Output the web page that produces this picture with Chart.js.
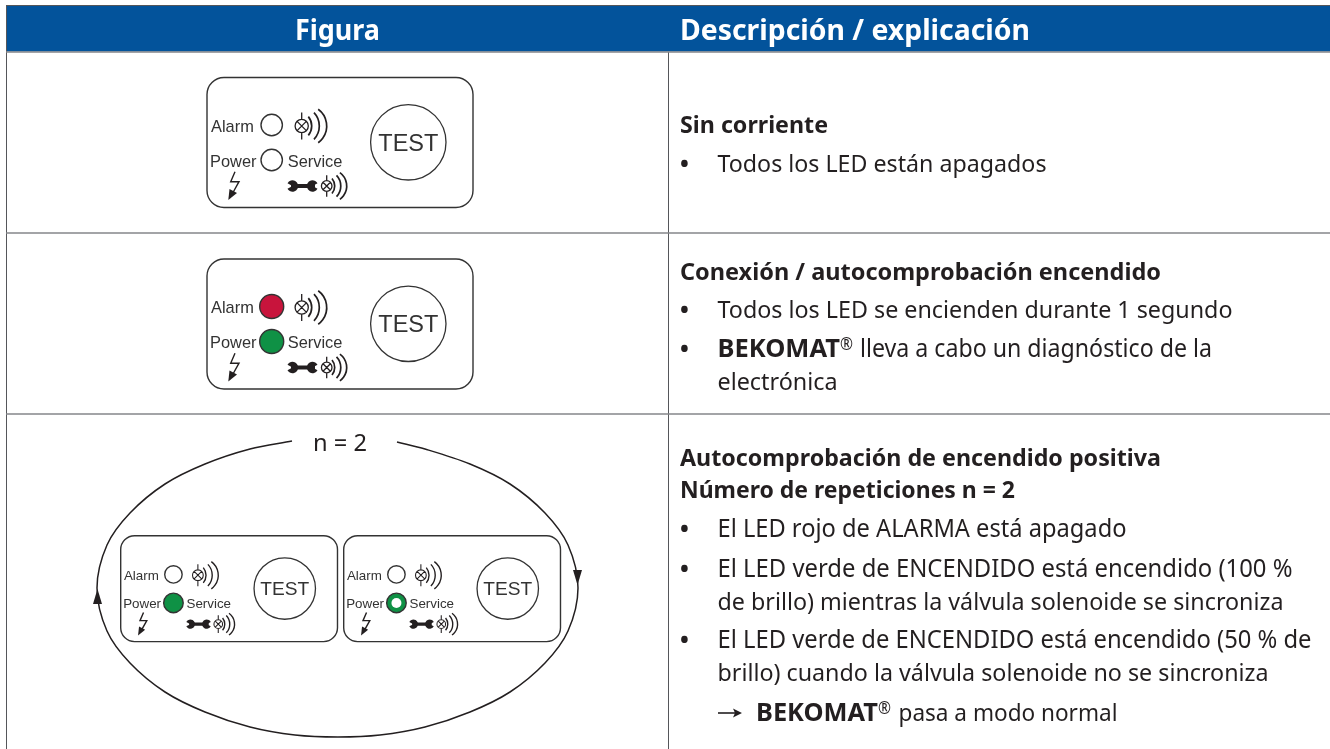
<!DOCTYPE html>
<html>
<head>
<meta charset="utf-8">
<style>
  html, body { margin: 0; padding: 0; background: #fff; overflow: hidden; }
  canvas { display: block; }
</style>
<script src="https://cdn.jsdelivr.net/npm/chart.js@4/dist/chart.umd.js"></script>
</head>
<body>
<canvas id="myChart" width="1330" height="749"></canvas>
<script>
// Table text
const headers = ['Figura', 'Descripción / explicación'];
const row1Lines = ['Sin corriente', 'Todos los LED están apagados'];
const row2Lines = ['Conexión / autocomprobación encendido', 'Todos los LED se encienden durante 1 segundo', 'BEKOMAT', '®', 'lleva a cabo un diagnóstico de la', 'electrónica'];
const row3Lines = ['Autocomprobación de encendido positiva', 'Número de repeticiones n = 2', 'El LED rojo de ALARMA está apagado', 'El LED verde de ENCENDIDO está encendido (100 %', 'de brillo) mientras la válvula solenoide se sincroniza', 'El LED verde de ENCENDIDO está encendido (50 % de', 'brillo) cuando la válvula solenoide no se sincroniza', 'BEKOMAT', '®', 'pasa a modo normal'];
const panelLabels = ['Alarm', 'Power', 'Service', 'TEST'];
const loopLabel = 'n = 2';

// Table rules
const columnRuleX = [6.5, 668.5];
const rowRuleY = [52, 233, 414];

// Device panels: left, top, scale
const panelLeft = [207, 207, 120.7, 343.7];
const panelTop = [77.5, 259, 535.7, 535.7];
const panelScale = [1, 1, 0.815, 0.815];

// LED state per panel
const alarmLed = ['off', 'red', 'off', 'off'];
const powerLed = ['off', 'green', 'green', 'half'];

// Loop around the two lower panels
const loopX = [292, 250, 205, 165, 130, 107, 97, 107, 130, 165, 205, 250, 295, 338, 380, 425, 470, 510, 545, 568, 578, 568, 545, 510, 470, 425, 397];
const loopY = [441, 449, 464, 484, 513, 545, 588, 631, 663, 692, 712, 727, 735, 737, 735, 727, 712, 692, 663, 631, 588, 545, 513, 484, 464, 449, 442];

const INK = '#231f20';
const ledFill = { off: '#ffffff', red: '#c8143c', green: '#0f9145', half: '#0f9145' };

const xy = (x, y) => ({ x, y });

// led and button points in panel units
const panelPoints = (ux, uy) => panelLeft.map((l, i) => xy(l + ux * panelScale[i], panelTop[i] + uy * panelScale[i]));

const ruleSets = [];
rowRuleY.forEach(y => {
  ruleSets.push({
    type: 'scatter', showLine: true, pointRadius: 0,
    data: [xy(6, y), xy(1330, y)],
    borderColor: '#85868a', borderWidth: 1.5, order: 5
  });
});
columnRuleX.forEach(x => {
  ruleSets.push({
    type: 'scatter', showLine: true, pointRadius: 0,
    data: [xy(x, rowRuleY[0]), xy(x, 749)],
    borderColor: '#55565a', borderWidth: 1, order: 5
  });
});

const drawText = (ctx, txt, x, y, font, opts) => {
  const o = opts || {};
  ctx.font = font;
  ctx.fillStyle = o.color || INK;
  ctx.textAlign = o.align || 'left';
  ctx.textBaseline = 'alphabetic';
  if (o.width) ctx.fillText(txt, x, y, o.width);
  else ctx.fillText(txt, x, y);
};

const arcAt = (ctx, sx, sy, cx, cy, r, half) => {
  ctx.beginPath();
  ctx.arc(sx(cx), sy(cy), r, -half, half);
  ctx.stroke();
};

// lamp with the three sound arcs
const drawLamp = (ctx, px, py, cx, cy, k, s) => {
  const u = k * s;
  ctx.lineWidth = 1.3 * s;
  ctx.beginPath();
  ctx.arc(px(cx), py(cy), 6.6 * u, 0, Math.PI * 2);
  ctx.moveTo(px(cx), py(cy - 13.5 * k));
  ctx.lineTo(px(cx), py(cy - 6.6 * k));
  ctx.moveTo(px(cx), py(cy + 6.6 * k));
  ctx.lineTo(px(cx), py(cy + 13.5 * k));
  const d = 4.6 * k;
  ctx.moveTo(px(cx - d), py(cy - d));
  ctx.lineTo(px(cx + d), py(cy + d));
  ctx.moveTo(px(cx - d), py(cy + d));
  ctx.lineTo(px(cx + d), py(cy - d));
  ctx.stroke();
  ctx.lineWidth = 1.7 * s;
  arcAt(ctx, px, py, cx - 4.7 * k, cy, 14.7 * u, 0.69);
  arcAt(ctx, px, py, cx - 1.7 * k, cy, 19.3 * u, 0.76);
  arcAt(ctx, px, py, cx + 4.3 * k, cy, 20.7 * u, 0.94);
};

const drawWrench = (ctx, px, py, s) => {
  ctx.fillStyle = INK;
  ctx.fillRect(px(84), py(106.5), 24 * s, 4 * s);
  [[85.5, Math.PI], [105.5, 0]].forEach(([cx, ang]) => {
    ctx.beginPath();
    ctx.arc(px(cx), py(108.5), 5.7 * s, ang + 0.5, ang - 0.5 + Math.PI * 2);
    ctx.lineTo(px(cx), py(108.5));
    ctx.closePath();
    ctx.fill();
  });
};

const drawBolt = (ctx, px, py) => {
  ctx.lineWidth = 1.4;
  ctx.beginPath();
  ctx.moveTo(px(28), py(94.2));
  ctx.lineTo(px(23.7), py(104.2));
  ctx.lineTo(px(32), py(104.2));
  ctx.lineTo(px(26), py(115));
  ctx.stroke();
  ctx.fillStyle = INK;
  ctx.beginPath();
  ctx.moveTo(px(21.3), py(122.5));
  ctx.lineTo(px(22.5), py(111.5));
  ctx.lineTo(px(30), py(115.5));
  ctx.closePath();
  ctx.fill();
};

const tablePlugin = {
  id: 'tablePlugin',
  beforeDatasetsDraw(chart) {
    const { ctx, scales } = chart;
    const X = v => scales.x.getPixelForValue(v);
    const Y = v => scales.y.getPixelForValue(v);
    ctx.save();
    // header band
    ctx.fillStyle = '#03539b';
    ctx.fillRect(X(7), Y(6), X(1330) - X(7), Y(51.5) - Y(6));
    ctx.fillStyle = '#55565a';
    ctx.fillRect(X(6), Y(5), X(1330) - X(6), 1);
    ctx.fillRect(X(6), Y(5), 1, Y(52) - Y(5));
    // panel outlines
    ctx.strokeStyle = '#333333';
    ctx.lineWidth = 1.4;
    panelLeft.forEach((l, i) => {
      const s = panelScale[i];
      ctx.beginPath();
      ctx.roundRect(X(l), Y(panelTop[i]), 266 * s, 130 * s, 17 * s);
      ctx.stroke();
    });
    ctx.restore();
  },
  afterDatasetsDraw(chart) {
    const { ctx, scales } = chart;
    const X = v => scales.x.getPixelForValue(v);
    const Y = v => scales.y.getPixelForValue(v);
    ctx.save();
    ctx.strokeStyle = INK;
    panelLeft.forEach((l, i) => {
      const s = panelScale[i];
      const t = panelTop[i];
      const px = u => X(l + u * s);
      const py = u => Y(t + u * s);
      const fs = 16.4 * s;
      drawText(ctx, panelLabels[0], px(4), py(54), fs + 'px "Liberation Sans"', { color: '#333' });
      drawText(ctx, panelLabels[1], px(3), py(89), fs + 'px "Liberation Sans"', { color: '#333' });
      drawText(ctx, panelLabels[2], px(80.7), py(89), fs + 'px "Liberation Sans"', { color: '#333' });
      drawText(ctx, panelLabels[3], px(201.3), py(73), 23.5 * s + 'px "Liberation Sans"', { color: '#333', align: 'center' });
      drawLamp(ctx, px, py, 94.7, 48.5, 1, s);
      drawLamp(ctx, px, py, 119.7, 108.5, 0.8, s);
      drawWrench(ctx, px, py, s);
      drawBolt(ctx, px, py);
    });

    // arrowheads on the loop
    ctx.fillStyle = INK;
    [[97.5, 589, 604], [577.5, 585, 570]].forEach(([ax, tipY, baseY]) => {
      ctx.beginPath();
      ctx.moveTo(X(ax), Y(tipY));
      ctx.lineTo(X(ax - 4.5), Y(baseY));
      ctx.lineTo(X(ax + 4.5), Y(baseY));
      ctx.closePath();
      ctx.fill();
    });

    // header
    const headFont = 'bold 29px "Noto Sans"';
    drawText(ctx, headers[0], X(337.5), Y(40), headFont, { color: '#fff', align: 'center', width: 85 });
    drawText(ctx, headers[1], X(680), Y(40), headFont, { color: '#fff', width: 350 });

    const reg = '23.5px "Noto Sans"';
    const wide = '24.5px "Noto Sans"';
    const bold = 'bold 23.5px "Noto Sans"';
    const brand = 'bold 25.5px "Noto Sans"';
    const sup = '18px "Noto Sans"';
    const put = (txt, px, py, font, w) => drawText(ctx, txt, X(px), Y(py), font, { width: w });
    const bullet = py => put('•', 680, py, bold);

    // row 1
    put(row1Lines[0], 680, 133, bold, 148);
    bullet(172); put(row1Lines[1], 717.5, 172, reg, 329);

    // row 2
    put(row2Lines[0], 680, 279.5, bold, 492);
    bullet(318); put(row2Lines[1], 717.5, 318, reg, 515);
    bullet(357); put(row2Lines[2], 717.5, 357, brand, 123);
    put(row2Lines[3], 840, 350, sup, 13);
    put(row2Lines[4], 860, 357, wide, 352);
    put(row2Lines[5], 717.5, 390, reg, 120);

    // row 3
    put(row3Lines[0], 680, 466, bold, 481);
    put(row3Lines[1], 680, 498, bold, 335);
    bullet(537); put(row3Lines[2], 717.5, 537, wide, 409);
    bullet(577); put(row3Lines[3], 717.5, 577, wide, 575);
    put(row3Lines[4], 717.5, 610, reg, 566);
    bullet(648); put(row3Lines[5], 717.5, 648, wide, 594);
    put(row3Lines[6], 717.5, 681, reg, 551);
    put(row3Lines[7], 756, 721, brand, 122);
    put(row3Lines[8], 878, 714, sup, 13);
    put(row3Lines[9], 898.5, 721, reg, 219);

    // small arrow before BEKOMAT
    ctx.lineWidth = 1.6;
    ctx.beginPath();
    ctx.moveTo(X(718), Y(713));
    ctx.lineTo(X(738), Y(713));
    ctx.stroke();
    ctx.fillStyle = INK;
    ctx.beginPath();
    ctx.moveTo(X(742), Y(713));
    ctx.lineTo(X(733), Y(708.5));
    ctx.lineTo(X(735), Y(713));
    ctx.lineTo(X(733), Y(717.5));
    ctx.closePath();
    ctx.fill();

    // loop label
    drawText(ctx, loopLabel, X(340), Y(451), '24px "Noto Sans"', { align: 'center', width: 54 });
    ctx.restore();
  }
};

const ctx = document.getElementById('myChart').getContext('2d');
const myChart = new Chart(ctx, {
  type: 'scatter',
  data: {
    datasets: [
      ...ruleSets,
      {
        // loop
        showLine: true, pointRadius: 0, tension: 0.33,
        data: loopX.map((x, i) => xy(x, loopY[i])),
        borderColor: INK, borderWidth: 1.5, order: 4
      },
      {
        // test buttons
        data: panelPoints(201.3, 64.8),
        pointRadius: panelScale.map(s => 37.7 * s),
        pointBackgroundColor: '#fff', pointBorderColor: '#333', pointBorderWidth: 1.3, order: 3
      },
      {
        // alarm leds
        data: panelPoints(64.7, 47.5),
        pointRadius: alarmLed.map((s, i) => (s === 'off' ? 10.7 : 12) * panelScale[i]),
        pointBackgroundColor: alarmLed.map(s => ledFill[s]),
        pointBorderColor: '#333', pointBorderWidth: 1.4, order: 2
      },
      {
        // power leds
        data: panelPoints(64.7, 82.5),
        pointRadius: powerLed.map((s, i) => (s === 'off' ? 10.7 : 12) * panelScale[i]),
        pointBackgroundColor: powerLed.map(s => ledFill[s]),
        pointBorderColor: '#333', pointBorderWidth: 1.4, order: 2
      },
      {
        // white centre of the half bright led
        data: panelPoints(64.7, 82.5).filter((p, i) => powerLed[i] === 'half'),
        pointRadius: 5, pointBackgroundColor: '#fff', pointBorderWidth: 0, order: 1
      }
    ]
  },
  options: {
    responsive: false,
    animation: false,
    layout: { padding: 0, autoPadding: false },
    plugins: { legend: { display: false }, tooltip: { enabled: false } },
    scales: {
      x: { type: 'linear', min: 0, max: 1330, display: false },
      y: { type: 'linear', min: 0, max: 749, reverse: true, display: false }
    }
  },
  plugins: [tablePlugin]
});
</script>
</body>
</html>
